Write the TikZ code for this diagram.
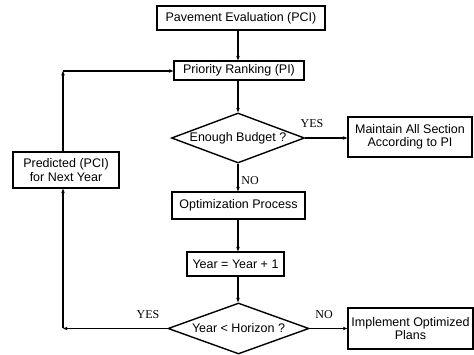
\documentclass[tikz,border=0pt]{standalone}
\usepackage{fontspec}
\setmainfont{Liberation Sans}
\newfontfamily\labelfont{Liberation Serif}
\usetikzlibrary{shapes.geometric,arrows.meta}
\begin{document}
\begin{tikzpicture}[x=1pt,y=-1pt,
  procbox/.style={draw,line width=1.4pt,inner sep=0pt,align=center,font=\fontsize{12.5}{13.5}\selectfont},
  decision/.style={draw,shape=diamond,line width=1.4pt,inner sep=0pt,aspect=2.7,font=\fontsize{12.5}{13.5}\selectfont},
  flow/.style={line width=1.1pt,-{Stealth[length=4.5pt,width=3.6pt]}},
  answer/.style={font=\labelfont\fontsize{12}{14}\selectfont}]
\useasboundingbox (0,0) rectangle (474,355);

% process steps
\node[procbox,minimum width=168pt,minimum height=24pt] (eval) at (241,18) {Pavement Evaluation (PCI)};
\node[procbox,minimum width=130pt,minimum height=19pt] (rank) at (239,70.5) {Priority Ranking (PI)};
\node[decision,minimum width=133pt,minimum height=50pt] (budget) at (238,138) {Enough Budget ?};
\node[procbox,minimum width=124pt,minimum height=40pt] (maintain) at (410,137) {Maintain All Section\\According to PI};
\node[procbox,minimum width=106pt,minimum height=36pt] (predict) at (66,170) {Predicted (PCI)\\for Next Year};
\node[procbox,minimum width=133pt,minimum height=27pt] (optim) at (238.5,205.5) {Optimization Process};
\node[procbox,minimum width=97pt,minimum height=24pt] (year) at (235.5,264) {Year = Year + 1};
\node[decision,minimum width=141pt,minimum height=51pt] (horizon) at (238.5,328.5) {Year {\textless} Horizon ?};
\node[procbox,minimum width=125pt,minimum height=41pt] (implement) at (410.5,328.5) {Implement Optimized\\Plans};

% loop corners
\coordinate (loopbot) at (63,328.5);
\coordinate (looptop) at (63,71);

% main vertical chain
\draw[flow] (budget.north |- eval.south) -- (budget.north |- rank.north);
\draw[flow] (budget.north |- rank.south) -- (budget.north);
\draw[flow] (budget.south) -- (budget.south |- optim.north);
\draw[flow] (budget.south |- optim.south) -- (budget.south |- year.north);
\draw[flow] (budget.south |- year.south) -- (budget.south |- horizon.north);

% branches
\draw[flow] (budget.east) -- (maintain.west |- budget.east);
\draw[flow] (horizon.east) -- (implement.west |- horizon.east);

% feedback loop
\draw[flow] (horizon.west) -- (loopbot);
\draw[flow] (loopbot) -- (loopbot |- predict.south);
\draw[flow] (loopbot |- predict.north) -- (looptop);
\draw[flow] (looptop) -- (looptop -| rank.west);

% branch labels
\node[answer] (yes1) at (312,124) {YES};
\node[answer] (no1) at (250,181) {NO};
\node[answer] (yes2) at (148,315) {YES};
\node[answer] (no2) at (324,315) {NO};
\end{tikzpicture}
\end{document}
